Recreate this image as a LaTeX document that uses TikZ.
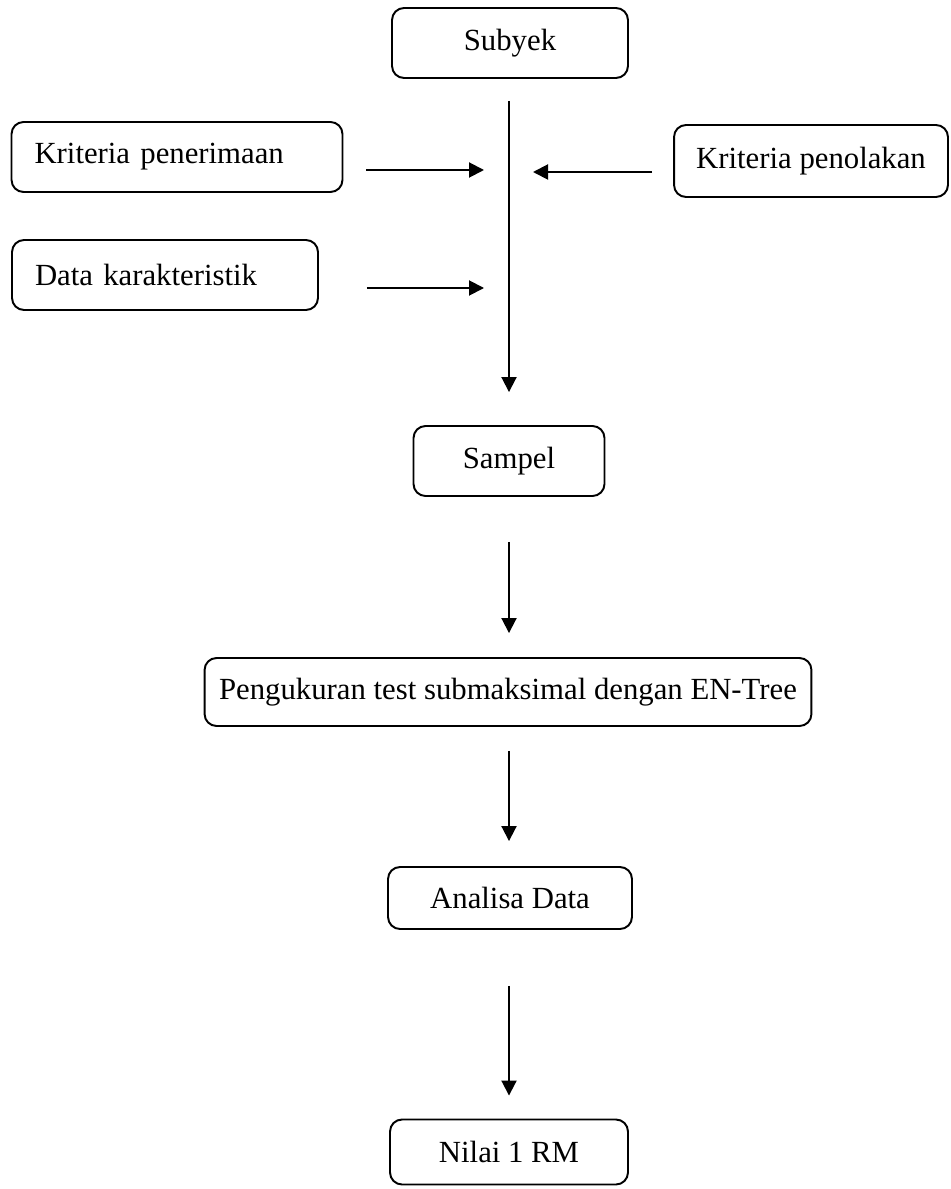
\documentclass[tikz,border=0pt]{standalone}
\usepackage{fontspec}
\setmainfont{Liberation Serif}
\usepackage{tikz}
\usetikzlibrary{arrows.meta, positioning, calc}

\begin{document}
\begin{tikzpicture}[
    x=0.02cm, y=-0.02cm,
    box/.style={rectangle, draw, line width=1.1pt, rounded corners=0.24cm, minimum height=1.4cm, align=center, font=\fontsize{17.5}{21}\selectfont},
    leftbox/.style={box, align=left, inner xsep=0.46cm},
    arrow/.style={-{Triangle[length=0.3cm, width=0.3cm]}, line width=1.1pt},
]
\useasboundingbox (0,0) rectangle (950,1189);

\node[box, minimum width=4.72cm] (subyek) at (510,43) {Subyek};
\node[leftbox, text width=5.7cm, minimum width=6.62cm] (terima) at (177,157) {Kriteria penerimaan};
\node[box, minimum width=5.48cm, minimum height=1.44cm] (tolak) at (811,161) {Kriteria penolakan};
\node[leftbox, text width=5.2cm, minimum width=6.12cm] (karakter) at (165,275) {Data karakteristik};
\node[box, minimum width=3.82cm] (sampel) at (509,461) {Sampel};
\node[box, minimum width=12.14cm, minimum height=1.36cm] (ukur) at (508,692) {Pengukuran test submaksimal dengan EN-Tree};
\node[box, minimum width=4.88cm, minimum height=1.24cm] (analisa) at (510,898) {Analisa Data};
\node[box, minimum width=4.76cm, minimum height=1.3cm] (nilai) at (509,1152) {Nilai 1 RM};

% titik pada garis utama
\coordinate (j1) at (509,170);
\coordinate (j2) at (509,172);
\coordinate (j3) at (509,288);

\draw[arrow, shorten <=0.44cm, shorten >=0.66cm] (subyek.south -| sampel) -- (sampel);
\draw[arrow, shorten <=0.46cm, shorten >=0.5cm] (terima.east |- j1) -- (j1);
\draw[arrow, shorten <=0.42cm, shorten >=0.48cm] (tolak.west |- j2) -- (j2);
\draw[arrow, shorten <=0.96cm, shorten >=0.5cm] (karakter.east |- j3) -- (j3);
\draw[arrow, shorten <=0.9cm, shorten >=0.48cm] (sampel.south) -- (sampel |- ukur.north);
\draw[arrow, shorten <=0.48cm, shorten >=0.5cm] (sampel |- ukur.south) -- (sampel |- analisa.north);
\draw[arrow, shorten <=1.12cm, shorten >=0.46cm] (sampel |- analisa.south) -- (sampel |- nilai.north);
\end{tikzpicture}
\end{document}
